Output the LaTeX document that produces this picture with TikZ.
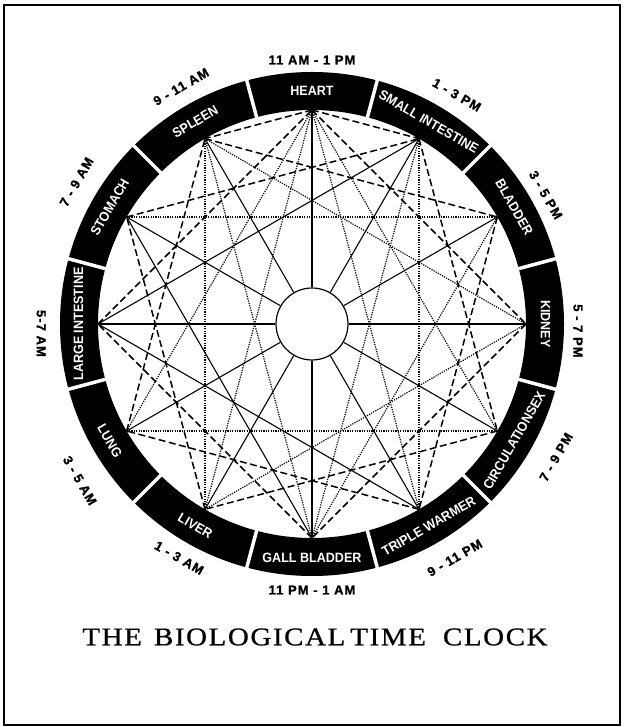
\documentclass[tikz,border=0pt]{standalone}
\usepackage{fontspec}
\setmainfont{Liberation Serif}
\newfontfamily\organfont{Liberation Sans}[FakeStretch=0.93]
\newfontfamily\timefont{Liberation Sans}[LetterSpace=8,FakeBold=1.2]
\newfontfamily\titlefont{Liberation Serif}[FakeStretch=1.14,LetterSpace=6,FakeBold=0.8]
\begin{document}
\begin{tikzpicture}[x=1pt,y=1pt,
  solidline/.style={line width=1.1pt},
  dashline/.style={line width=1.5pt,dash pattern=on 7pt off 3.5pt},
  dotline/.style={line width=1.2pt,dash pattern=on 1.2pt off 1.2pt},
  organlabel/.style={text=white,font=\organfont\bfseries\fontsize{13.5}{13.5}\selectfont,inner sep=0pt},
  timelabel/.style={font=\timefont\bfseries\fontsize{13}{13}\selectfont,inner sep=0pt},
  separator/.style={white,line width=3.5pt}]
\useasboundingbox (-312,-403) rectangle (313,324);
% frame
\draw[line width=1.6pt] (-308,-401) rectangle (308,319);
% ring
\fill[black,even odd rule] (0,0) circle (252) (0,0) circle (214);
\foreach \a in {15,45,...,345} \draw[separator] (\a:213) -- (\a:253);
% vertices
\foreach \n/\a in {heart/90,smallint/60,bladder/30,kidney/0,circsex/-30,triple/-60,
  gall/-90,liver/-120,lung/-150,largeint/180,stomach/150,spleen/120}
  \coordinate (\n) at (\a:214);
% centre circle
\node[circle,draw,line width=1.2pt,fill=white,minimum size=72pt,inner sep=0pt] (ctr) at (0,0) {};
% spokes
\foreach \n in {heart,smallint,bladder,kidney,circsex,triple,gall,liver,lung,largeint,stomach,spleen}
  \draw[solidline] (\n) -- (ctr);
% dashed chords
\foreach \p/\q in {heart/kidney,smallint/circsex,bladder/triple,kidney/gall,circsex/liver,
  triple/lung,gall/largeint,liver/stomach,lung/spleen,largeint/heart,stomach/smallint,spleen/bladder,
  heart/smallint,heart/spleen}
  \draw[dashline] (\p) -- (\q);
% dotted chords
\foreach \p/\q in {heart/circsex,smallint/triple,kidney/liver,circsex/lung,
  liver/spleen,lung/heart,stomach/bladder,spleen/kidney,heart/liver,heart/triple,
  bladder/gall,gall/spleen,gall/smallint}
  \draw[dotline] (\p) -- (\q);
% solid chords
\foreach \p/\q in {largeint/smallint,largeint/triple,stomach/gall}
  \draw[solidline] (\p) -- (\q);
% organ names
\node[organlabel,rotate=0] (o1) at (90:233.5) {HEART};
\node[organlabel,rotate=-30] (o2) at (60:233.5) {SMALL INTESTINE};
\node[organlabel,rotate=-60] (o3) at (30:233.5) {BLADDER};
\node[organlabel,rotate=-90] (o4) at (0:233.5) {KIDNEY};
\node[organlabel,rotate=60] (o5) at (-30:233.5) {CIRCULATIONSEX};
\node[organlabel,rotate=30] (o6) at (-60:233.5) {TRIPLE WARMER};
\node[organlabel,rotate=0] (o7) at (-90:233.5) {GALL BLADDER};
\node[organlabel,rotate=-30] (o8) at (-120:233.5) {LIVER};
\node[organlabel,rotate=-60] (o9) at (-150:233.5) {LUNG};
\node[organlabel,rotate=90] (o10) at (180:233.5) {LARGE INTESTINE};
\node[organlabel,rotate=60] (o11) at (150:233.5) {STOMACH};
\node[organlabel,rotate=30] (o12) at (120:233.5) {SPLEEN};
% times
\node[timelabel,rotate=0] (t1) at (90:264) {11 AM - 1 PM};
\node[timelabel,rotate=-30] (t2) at (57.7:271) {1 - 3 PM};
\node[timelabel,rotate=-60] (t3) at (28.9:267) {3 - 5 PM};
\node[timelabel,rotate=-90] (t4) at (-1.5:266) {5 - 7 PM};
\node[timelabel,rotate=60] (t5) at (-28.6:278) {7 - 9 PM};
\node[timelabel,rotate=30] (t6) at (-58.6:274) {9 - 11 PM};
\node[timelabel,rotate=0] (t7) at (-90:266) {11 PM - 1 AM};
\node[timelabel,rotate=-30] (t8) at (-119.6:269) {1 - 3 AM};
\node[timelabel,rotate=-60] (t9) at (-146:280) {3 - 5 AM};
\node[timelabel,rotate=-90] (t10) at (-178:271) {5-7 AM};
\node[timelabel,rotate=60] (t11) at (148.9:275) {7 - 9 AM};
\node[timelabel,rotate=30] (t12) at (118.9:271) {9 - 11 AM};
% title
\node[font=\titlefont\fontsize{25.5}{25.5}\selectfont,inner sep=0pt] (title) at (3,-313)
  {THE\hspace{12pt}BIOLOGICAL\hspace{5pt}TIME\hspace{17pt}CLOCK};
\end{tikzpicture}
\end{document}
